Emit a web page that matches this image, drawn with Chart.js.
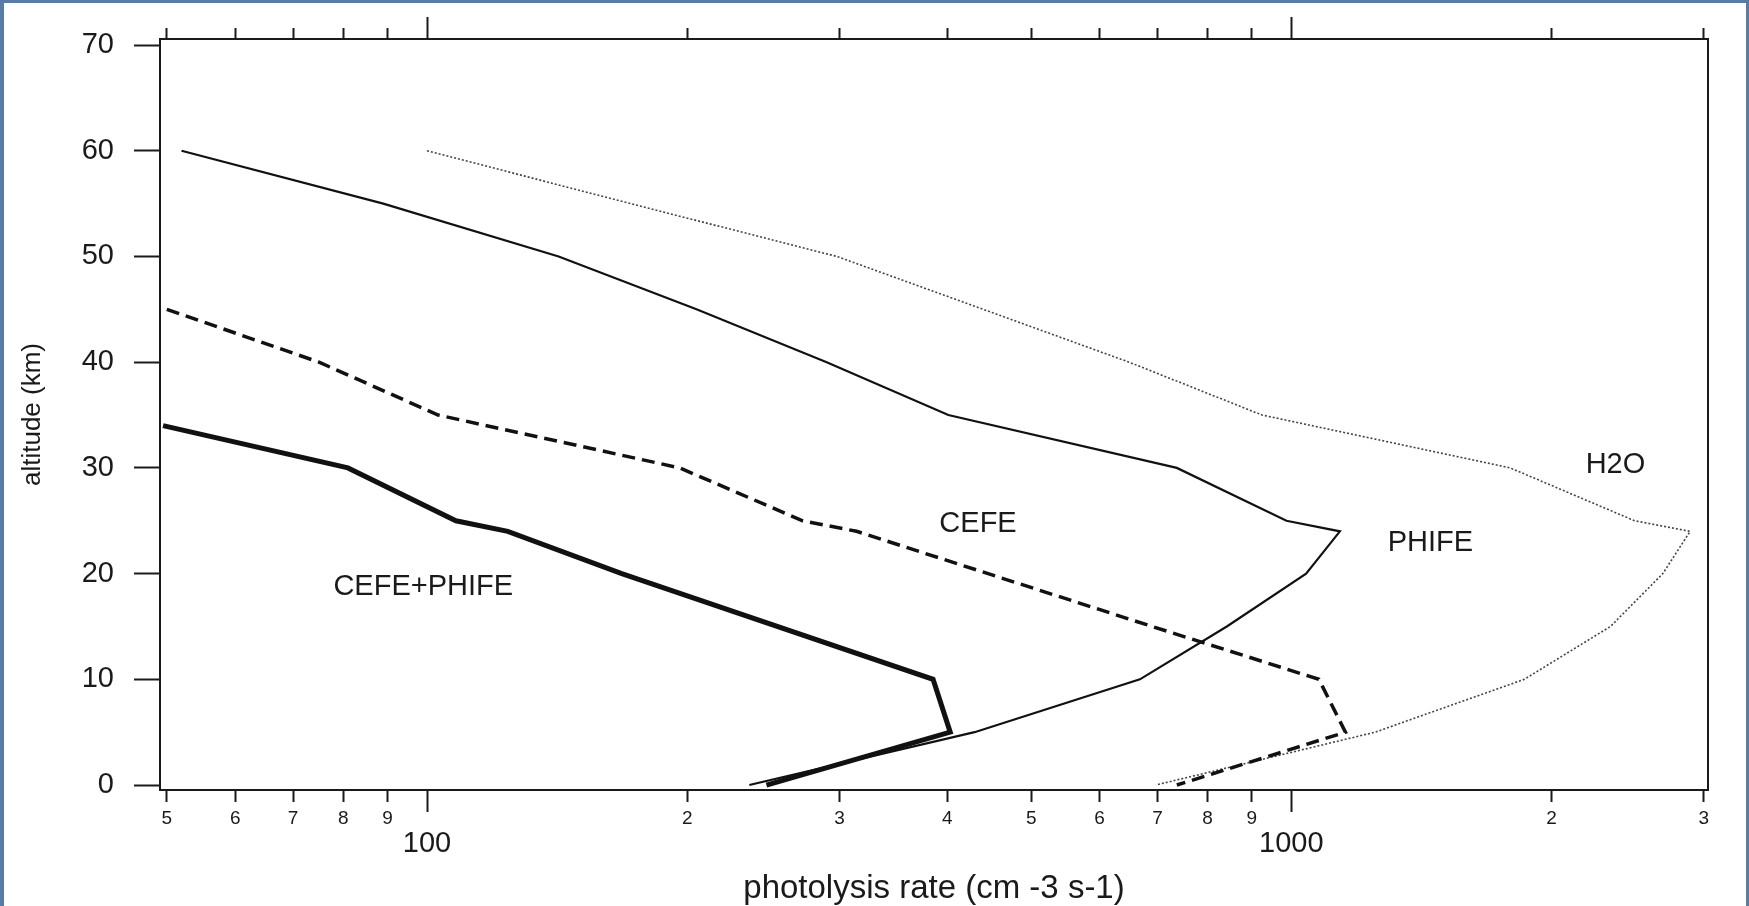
<!DOCTYPE html>
<html>
<head>
<meta charset="utf-8">
<title>Photolysis rate profiles</title>
<script src="https://cdn.jsdelivr.net/npm/chart.js@4.4.1/dist/chart.umd.min.js"></script>
<style>
  html, body { margin: 0; padding: 0; background: #5a7ba4; }
  #wrap { position: absolute; left: 0; top: 0; width: 1749px; height: 906px; }
</style>
</head>
<body>
<div id="wrap"><canvas id="rateChart" width="1749" height="906"></canvas></div>
<script>
// -----------------------------------------------------------------------------
// Data: altitude (km) vs photolysis rate (cm-3 s-1)
// -----------------------------------------------------------------------------
const sumAlt    = [34, 30, 25, 24, 20, 10, 5, 0];
const sumRate   = [49.5, 81, 108, 124, 168, 385, 403, 247];

const cefeAlt   = [45, 40, 35, 30, 25, 24, 15, 10, 5, 0];
const cefeRate  = [50, 75, 103, 196, 272, 314, 690, 1076, 1155, 737];

const phifeAlt  = [60, 55, 50, 45, 40, 35, 30, 25, 24, 20, 15, 10, 5, 0];
const phifeRate = [52, 89, 142, 205, 290, 401, 737, 987, 1138, 1040, 842, 668, 430, 236];

const h2oAlt    = [60, 55, 50, 45, 40, 35, 30, 25, 24, 20, 15, 10, 5, 0];
const h2oRate   = [100, 172, 298, 440, 649, 925, 1791, 2495, 2893, 2690, 2340, 1860, 1250, 697];

// axis ticks
const xTicks = [50, 60, 70, 80, 90, 100, 200, 300, 400, 500, 600, 700, 800, 900, 1000, 2000, 3000];
const xMajor = [100, 1000];
const yTicks = [0, 10, 20, 30, 40, 50, 60, 70];

// curve names written inside the plot (rate, altitude)
const curveNames = ['CEFE+PHIFE', 'CEFE', 'PHIFE', 'H2O'];
const curveNameRate = [99, 434, 1448, 2371];
const curveNameAlt = [18.7, 24.7, 22.9, 30.3];

const FONT = '"Liberation Sans", Arial, Helvetica, sans-serif';
const INK = '#1a1a1a';
Chart.defaults.font.family = FONT;
Chart.defaults.color = INK;

function toPoints(rates, alts) {
  return rates.map((r, i) => ({ x: r, y: alts[i] }));
}

function isMajor(ctx) {
  return !!(ctx.tick && xMajor.includes(ctx.tick.value));
}

// blue frame round a white sheet
const sheet = {
  id: 'sheet',
  beforeDraw(chart) {
    const ctx = chart.ctx;
    ctx.save();
    ctx.fillStyle = '#5a7ba4';
    ctx.fillRect(0, 0, chart.width, chart.height);
    ctx.fillStyle = '#ffffff';
    ctx.fillRect(4, 3, chart.width - 7, chart.height - 3);
    ctx.restore();
  }
};

// names next to the curves
const curveText = {
  id: 'curveText',
  afterDatasetsDraw(chart) {
    const { ctx, scales: { x, y } } = chart;
    ctx.save();
    ctx.font = '29px ' + FONT;
    ctx.fillStyle = INK;
    ctx.textAlign = 'center';
    ctx.textBaseline = 'middle';
    curveNames.forEach((t, i) => {
      ctx.fillText(t, x.getPixelForValue(curveNameRate[i]), y.getPixelForValue(curveNameAlt[i]));
    });
    ctx.restore();
  }
};

const xMin = 49.1, xMax = 3034;
const yMin = -0.47, yMax = 70.57;
const frame = { display: true, color: INK, width: 2 };

new Chart(document.getElementById('rateChart'), {
  type: 'line',
  data: {
    datasets: [
      { label: 'CEFE+PHIFE', data: toPoints(sumRate, sumAlt), borderColor: '#111', borderWidth: 5 },
      { label: 'CEFE', data: toPoints(cefeRate, cefeAlt), borderColor: '#111', borderWidth: 3.5, borderDash: [13, 7] },
      { label: 'PHIFE', data: toPoints(phifeRate, phifeAlt), borderColor: '#111', borderWidth: 2.2 },
      { label: 'H2O', data: toPoints(h2oRate, h2oAlt), borderColor: '#444', borderWidth: 1.6, borderDash: [2, 2] }
    ]
  },
  options: {
    responsive: false,
    animation: false,
    elements: {
      point: { radius: 0, hoverRadius: 0 },
      line: { tension: 0, fill: false, borderJoinStyle: 'miter' }
    },
    layout: { padding: { left: 0, right: 41, top: 0, bottom: 0 } },
    plugins: {
      legend: { display: false },
      tooltip: { enabled: false }
    },
    scales: {
      x: {
        type: 'logarithmic',
        position: 'bottom',
        min: xMin,
        max: xMax,
        afterBuildTicks: s => { s.ticks = xTicks.map(v => ({ value: v, major: xMajor.includes(v) })); },
        afterFit: s => { s.height = 116; },
        border: frame,
        grid: {
          drawOnChartArea: false,
          tickLength: 22,
          tickWidth: 2,
          tickColor: INK,
          tickBorderDash: c => isMajor(c) ? [] : [11, 40]
        },
        ticks: {
          autoSkip: false,
          maxRotation: 0,
          padding: -2.5,
          color: INK,
          font: c => isMajor(c) ? { size: 29, lineHeight: 2.35 } : { size: 19, lineHeight: 1 },
          callback: v => xMajor.includes(v) ? String(v) : String(v).charAt(0)
        },
        title: {
          display: true,
          text: 'photolysis rate (cm -3 s-1)',
          color: INK,
          font: { size: 33, lineHeight: 1 },
          padding: { top: 0, bottom: 1 }
        }
      },
      x2: {
        type: 'logarithmic',
        position: 'top',
        min: xMin,
        max: xMax,
        afterBuildTicks: s => { s.ticks = xTicks.map(v => ({ value: v, major: xMajor.includes(v) })); },
        afterFit: s => { s.height = 39; },
        border: frame,
        grid: {
          drawOnChartArea: false,
          tickLength: 22,
          tickWidth: 2,
          tickColor: INK,
          tickBorderDash: c => isMajor(c) ? [] : [11, 11],
          tickBorderDashOffset: c => isMajor(c) ? 0 : 11
        },
        ticks: { display: false }
      },
      y: {
        type: 'linear',
        position: 'left',
        min: yMin,
        max: yMax,
        afterBuildTicks: s => { s.ticks = yTicks.map(v => ({ value: v })); },
        afterFit: s => { s.width = 160; },
        border: frame,
        grid: { drawOnChartArea: false, tickLength: 26, tickWidth: 2, tickColor: INK },
        ticks: { padding: 20, color: INK, font: { size: 29 } },
        title: {
          display: true,
          text: 'altitude (km)',
          color: INK,
          font: { size: 26, lineHeight: 1.2 },
          padding: { top: 17, bottom: 0 }
        }
      },
      y2: {
        type: 'linear',
        position: 'right',
        min: yMin,
        max: yMax,
        afterFit: s => { s.width = 0; },
        border: frame,
        grid: { drawOnChartArea: false, drawTicks: false },
        ticks: { display: false }
      }
    }
  },
  plugins: [sheet, curveText]
});
</script>
</body>
</html>
